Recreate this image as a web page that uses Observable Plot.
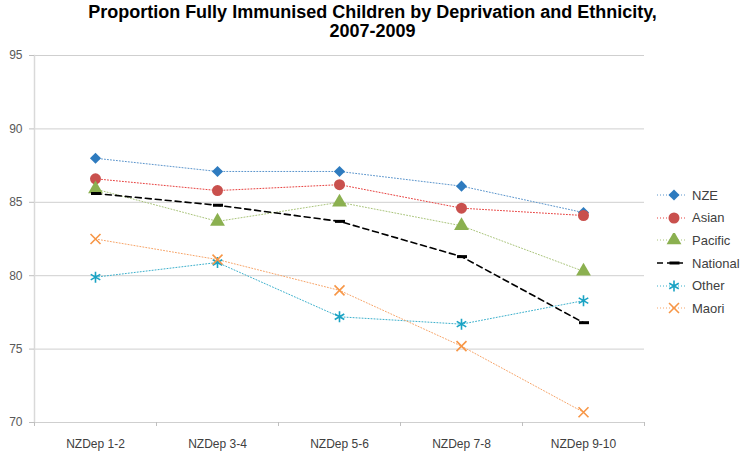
<!DOCTYPE html>
<html>
<head>
<meta charset="utf-8">
<script src="https://cdn.jsdelivr.net/npm/d3@7"></script>
<script src="https://cdn.jsdelivr.net/npm/@observablehq/plot@0.6"></script>
<style>
  body { margin: 0; background: #fff; }
  #wrap { position: relative; width: 745px; height: 454px; font-family: "Liberation Sans", Arial, sans-serif; }
  #title { box-sizing: border-box; height: 45px; padding-top: 3px; text-align: center; font-weight: bold; font-size: 18px; line-height: 19px; color: #000; }
  #legend { position: absolute; left: 655px; top: 184px; font-size: 13px; color: #404040; }
  .li { height: 22.6px; display: flex; align-items: center; }
  .li svg { margin-right: 3px; }
</style>
</head>
<body>
<div id="wrap">
  <div id="title">Proportion Fully Immunised Children by Deprivation and Ethnicity,<br>2007-2009</div>
  <div id="chart"></div>
  <div id="legend"></div>
</div>
<script>
const categories = ["NZDep 1-2", "NZDep 3-4", "NZDep 5-6", "NZDep 7-8", "NZDep 9-10"];
const seriesNames = ["NZE", "Asian", "Pacific", "National", "Other", "Maori"];
const nze      = [88.0, 87.1, 87.1, 86.1, 84.3];
const asian    = [86.6, 85.8, 86.2, 84.6, 84.1];
const pacific  = [85.9, 83.7, 85.0, 83.4, 80.3];
const national = [85.6, 84.8, 83.7, 81.3, 76.8];
const other    = [79.9, 80.9, 77.2, 76.7, 78.3];
const maori    = [82.5, 81.1, 79.0, 75.2, 70.7];
const yTicks = [70, 75, 80, 85, 90, 95];

const dash = { draw(ctx, size) { ctx.rect(-4.5, -1.5, 10, 3); } };

const styles = {
  NZE:      { color: "#2E7BBF", line: "#5B95CC", symbol: "diamond2", r: 5, filled: true,  dash: "1,2", sw: 1 },
  Asian:    { color: "#C9504D", line: "#E8413F", symbol: "circle",   r: 5.5, filled: true, dash: "1,2", sw: 1 },
  Pacific:  { color: "#8BB050", line: "#A9C47A", symbol: "triangle", r: 5.5, filled: true, dash: "1,2", sw: 1 },
  National: { color: "#000000", line: "#000000", symbol: dash,       r: 5, filled: true,  dash: "6,4", sw: 1.6 },
  Other:    { color: "#1AA3C4", line: "#3BB0CC", symbol: "asterisk", r: 5.2, filled: false, dash: "1,2", sw: 1 },
  Maori:    { color: "#F79646", line: "#F7A468", symbol: "times",    r: 4.6, filled: false, dash: "1,2", sw: 1 }
};

const valuesByName = { NZE: nze, Asian: asian, Pacific: pacific, National: national, Other: other, Maori: maori };
const rows = seriesNames.flatMap(name => valuesByName[name].map((v, i) => ({ series: name, i, cat: categories[i], value: v })));

const marks = [
  Plot.ruleY(yTicks, { stroke: "#cfcfcf", strokeWidth: 1 }),
  Plot.frame({ anchor: "left", stroke: "#d9d9d9", strokeWidth: 1.5 }),
  Plot.axisY({ ticks: yTicks, tickSize: 5, tickPadding: 7, stroke: "#bfbfbf", fill: "#595959", fontSize: 12, label: null }),
  Plot.axisX({ ticks: d3.range(-0.5, 5, 1), tickFormat: () => "", tickSize: 4, stroke: "#bfbfbf", label: null }),
  Plot.axisX({ ticks: d3.range(0, 5), tickFormat: i => categories[i], tickSize: 0, tickPadding: 17, fill: "#404040", fontSize: 12, label: null })
];

for (const name of seriesNames) {
  const s = styles[name];
  const data = rows.filter(d => d.series === name);
  marks.push(Plot.line(data, { x: "i", y: "value", stroke: s.line, strokeWidth: s.sw, strokeDasharray: s.dash }));
}
for (const name of seriesNames) {
  const s = styles[name];
  const data = rows.filter(d => d.series === name);
  marks.push(Plot.dot(data, {
    x: "i", y: "value", symbol: () => s.symbol, r: s.r,
    fill: s.filled ? s.color : "none",
    stroke: s.filled ? "none" : s.color,
    strokeWidth: s.filled ? 0 : 1.6
  }));
}

const chart = Plot.plot({
  width: 745,
  height: 409,
  marginTop: 10,
  marginBottom: 32,
  marginLeft: 34,
  marginRight: 101,
  style: { fontFamily: "Liberation Sans, Arial, sans-serif", background: "#fff" },
  x: { type: "linear", domain: [-0.5, 4.5], axis: null },
  y: { domain: [70, 95], axis: null },
  symbol: { type: "identity" },
  marks
});
document.getElementById("chart").append(chart);

// legend
const legend = d3.select("#legend");
const symMap = { diamond2: d3.symbolDiamond2, circle: d3.symbolCircle, triangle: d3.symbolTriangle, asterisk: d3.symbolAsterisk, times: d3.symbolTimes };
for (const name of seriesNames) {
  const s = styles[name];
  const item = legend.append("div").attr("class", "li");
  const svg = item.append("svg").attr("width", 34).attr("height", 14);
  svg.append("line").attr("x1", 2).attr("x2", 32).attr("y1", 7).attr("y2", 7)
    .attr("stroke", s.line).attr("stroke-width", s.sw).attr("stroke-dasharray", s.dash);
  const symType = typeof s.symbol === "string" ? symMap[s.symbol] : s.symbol;
  svg.append("path")
    .attr("transform", "translate(19,7)")
    .attr("d", d3.symbol(symType, Math.PI * s.r * s.r)())
    .attr("fill", s.filled ? s.color : "none")
    .attr("stroke", s.filled ? "none" : s.color)
    .attr("stroke-width", s.filled ? 0 : 1.6);
  item.append("span").text(name);
}
</script>
</body>
</html>
